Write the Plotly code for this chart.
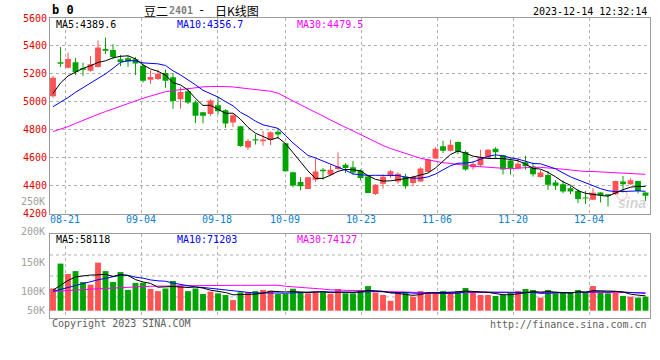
import plotly.graph_objects as go

# ---------------- data ----------------
dates = ["08-17", "08-18", "08-21", "08-22", "08-23", "08-24", "08-25", "08-28", "08-29", "08-30", "08-31",
         "09-01", "09-04", "09-05", "09-06", "09-07", "09-08", "09-11", "09-12", "09-13", "09-14", "09-15",
         "09-18", "09-19", "09-20", "09-21", "09-22", "09-25", "09-26", "09-27", "09-28",
         "10-09", "10-10", "10-11", "10-12", "10-13", "10-16", "10-17", "10-18", "10-19", "10-20",
         "10-23", "10-24", "10-25", "10-26", "10-27", "10-30", "10-31",
         "11-01", "11-02", "11-03", "11-06", "11-07", "11-08", "11-09", "11-10", "11-13", "11-14", "11-15",
         "11-16", "11-17", "11-20", "11-21", "11-22", "11-23", "11-24", "11-27", "11-28", "11-29", "11-30",
         "12-01", "12-04", "12-05", "12-06", "12-07", "12-08", "12-11", "12-12", "12-13", "12-14"]

opens = [5040, 5283, 5243, 5283, 5240, 5222, 5250, 5378, 5370, 5305, 5312, 5305, 5258, 5158, 5163, 5207,
         5175, 5018, 5076, 4997, 4925, 4912, 4975, 4940, 4852, 4825, 4673, 4732, 4718, 4727, 4785,
         4703, 4495, 4426, 4376, 4442, 4513, 4477, 4518, 4549, 4532, 4508, 4465, 4340, 4413, 4470, 4430,
         4465, 4419, 4429, 4498, 4593, 4681, 4650, 4712, 4641, 4531, 4545, 4602, 4664, 4617, 4579, 4522,
         4567, 4536, 4462, 4476, 4422, 4410, 4381, 4362, 4314, 4298, 4350, 4338, 4338, 4429, 4410, 4433, 4350]
highs = [5185, 5393, 5352, 5315, 5280, 5328, 5440, 5460, 5412, 5335, 5330, 5320, 5275, 5225, 5230, 5230,
         5205, 5105, 5100, 5010, 4928, 5018, 5035, 4947, 4910, 4826, 4733, 4768, 4792, 4787, 4810,
         4705, 4500, 4460, 4460, 4592, 4525, 4548, 4637, 4561, 4577, 4515, 4466, 4411, 4480, 4513, 4495,
         4484, 4472, 4531, 4593, 4674, 4721, 4729, 4715, 4650, 4574, 4657, 4662, 4674, 4618, 4602, 4598,
         4614, 4564, 4512, 4505, 4438, 4438, 4398, 4374, 4362, 4380, 4352, 4340, 4434, 4469, 4452, 4434, 4351]
lows = [5030, 5250, 5240, 5192, 5185, 5215, 5245, 5343, 5305, 5255, 5250, 5192, 5138, 5128, 5155, 5100,
        4950, 4950, 4984, 4848, 4845, 4900, 4910, 4813, 4820, 4677, 4655, 4694, 4685, 4690, 4735,
        4500, 4387, 4366, 4375, 4425, 4442, 4470, 4513, 4490, 4477, 4437, 4345, 4333, 4378, 4455, 4413,
        4378, 4395, 4428, 4497, 4592, 4633, 4645, 4626, 4507, 4514, 4538, 4598, 4593, 4479, 4479, 4514,
        4514, 4464, 4457, 4369, 4369, 4345, 4338, 4274, 4267, 4295, 4279, 4250, 4333, 4350, 4405, 4345, 4290]
closes = [5172, 5272, 5307, 5214, 5230, 5268, 5388, 5366, 5320, 5285, 5288, 5275, 5150, 5178, 5200, 5150,
          5006, 5070, 4994, 4900, 4900, 5010, 4933, 4845, 4904, 4683, 4720, 4722, 4730, 4782, 4765,
          4502, 4400, 4396, 4459, 4500, 4502, 4513, 4537, 4525, 4494, 4454, 4346, 4405, 4463, 4502, 4484,
          4396, 4462, 4522, 4586, 4664, 4650, 4693, 4641, 4515, 4555, 4602, 4657, 4638, 4515, 4522, 4557,
          4538, 4481, 4493, 4405, 4398, 4357, 4357, 4303, 4307, 4348, 4333, 4328, 4433, 4410, 4438, 4362, 4327]
volumes_k = [92, 195, 152, 164, 119, 108, 199, 164, 119, 160, 86, 115, 115, 90, 81, 92,
             123, 104, 81, 92, 69, 79, 72, 65, 44, 76, 77, 81, 86, 83, 69,
             69, 91, 77, 72, 77, 77, 69, 90, 72, 72, 86, 102, 75, 65, 41, 77,
             77, 58, 81, 77, 77, 81, 75, 81, 94, 75, 65, 65, 61, 65, 75, 81,
             90, 86, 54, 86, 72, 75, 75, 86, 77, 102, 75, 72, 77, 61, 58, 54, 58]

# moving-average values before a full window exists
ma5_head = [5060, 5135, 5185, 5215]
ma10_head = [4965, 4995, 5030, 5068, 5100, 5130, 5165, 5200, 5240]
ma30_head = [4787, 4803, 4822, 4845, 4868, 4890, 4910, 4930, 4950, 4969, 4990, 5009, 5025, 5041, 5055,
             5072, 5080, 5088, 5096, 5103, 5107, 5109, 5110, 5109, 5106, 5100, 5091, 5083, 5078]
vma5_head = [85, 105, 125, 140]
vma10_head = [80, 88, 98, 106, 113, 121, 128, 134, 141]
vma30_head = [80, 81, 83, 85, 87, 89, 91, 92, 94, 96, 98, 99, 100, 101, 102, 103, 103, 104, 104, 104,
              104, 105, 105, 105, 105, 105, 105, 105, 105]

tick_dates = ["08-21", "09-04", "09-18", "10-09", "10-23", "11-06", "11-20", "12-04"]
price_ticks = [4200, 4400, 4600, 4800, 5000, 5200, 5400, 5600]
vol_tick_labels = ["200K", "150K", "100K", "50K"]
legend_main = ["MA5:4389.6", "MA10:4356.7", "MA30:4479.5"]
legend_vol = ["MA5:58118", "MA10:71203", "MA30:74127"]

# ---------------- layout helpers ----------------
W, H = 660, 360
L, R, T, B = 50, 10, 18, 42
PW, PH = W - L - R, H - T - B


def pxx(x):
    return (x - L) / PW


def pxy(y):
    return (H - B - y) / PH


MONO = "DejaVu Sans Mono"
CJK = "Noto Sans CJK SC"
RED = "#ff5252"
GREEN = "#00a400"
GRID = "#b0b0b0"
BORDER = "#9a9a9a"


def moving(values, n, head):
    out = list(head)
    for i in range(len(head), len(values)):
        out.append(sum(values[i - n + 1:i + 1]) / n)
    return out


N = len(closes)
idx = list(range(N))
up = [c >= o for o, c in zip(opens, closes)]
colors = [RED if u else GREEN for u in up]

fig = go.Figure()

# wicks
for flag, col in ((True, RED), (False, GREEN)):
    wx, wy = [], []
    for i in idx:
        if up[i] == flag:
            wx += [i, i, None]
            wy += [lows[i], highs[i], None]
    fig.add_trace(go.Scatter(x=wx, y=wy, mode="lines", line=dict(color=col, width=1),
                             xaxis="x", yaxis="y", hoverinfo="skip", showlegend=False))

# bodies
fig.add_trace(go.Bar(x=idx, y=[max(abs(c - o), 6) for o, c in zip(opens, closes)],
                     base=[min(o, c) for o, c in zip(opens, closes)], width=0.78,
                     marker=dict(color=colors, line=dict(width=0)),
                     xaxis="x", yaxis="y", hoverinfo="skip", showlegend=False))

# price MAs
for vals, col in ((moving(closes, 30, ma30_head), "#ff00ff"),
                  (moving(closes, 10, ma10_head), "#0000ff"),
                  (moving(closes, 5, ma5_head), "#000000")):
    fig.add_trace(go.Scatter(x=idx, y=vals, mode="lines", line=dict(color=col, width=1),
                             xaxis="x", yaxis="y", hoverinfo="skip", showlegend=False))

# volume
fig.add_trace(go.Bar(x=idx, y=volumes_k, width=0.78, marker=dict(color=colors, line=dict(width=0)),
                     xaxis="x2", yaxis="y2", hoverinfo="skip", showlegend=False))
for vals, col in ((moving(volumes_k, 30, vma30_head), "#ff00ff"),
                  (moving(volumes_k, 10, vma10_head), "#0000ff"),
                  (moving(volumes_k, 5, vma5_head), "#000000")):
    fig.add_trace(go.Scatter(x=idx, y=vals, mode="lines", line=dict(color=col, width=1),
                             xaxis="x2", yaxis="y2", hoverinfo="skip", showlegend=False))

# date grid positions (date labels are spaced over N-1 intervals in the source chart)
grid_pos = [dates.index(d) * N / (N - 1) - 0.4 for d in tick_dates]

axis_common = dict(showline=True, mirror=True, linecolor=BORDER, linewidth=1, zeroline=False,
                   automargin=False)

fig.update_layout(
    width=W, height=H, margin=dict(l=L, r=R, t=T, b=B, autoexpand=False),
    paper_bgcolor="white", plot_bgcolor="white", barmode="overlay", showlegend=False,
    xaxis=dict(domain=[0, 1], range=[-0.4, N - 0.4], anchor="y", tickvals=grid_pos, showticklabels=False,
               showgrid=True, gridcolor=GRID, griddash="dot", gridwidth=1, ticks="", **axis_common),
    yaxis=dict(domain=[pxy(213.5), 1], range=[4200, 5600], anchor="x", tickvals=price_ticks,
               ticktext=[str(v) for v in price_ticks], showgrid=True, gridcolor=GRID, griddash="dot",
               gridwidth=1, ticks="", tickfont=dict(family=MONO, size=10, color="#e00000"), **axis_common),
    xaxis2=dict(domain=[0, 1], matches="x", anchor="y2", tickvals=grid_pos, showticklabels=False,
                showgrid=True, gridcolor=GRID, griddash="dot", gridwidth=1, ticks="", **axis_common),
    yaxis2=dict(domain=[0, pxy(234)], range=[-30.2, 317.6], anchor="x2", showticklabels=False,
                showgrid=False, ticks="", **axis_common),
)

shapes = []
for f in (0.25, 0.5, 0.75):
    shapes.append(dict(type="line", xref="x2 domain", yref="y2 domain", x0=0, x1=1, y0=f, y1=f,
                       line=dict(color=GRID, width=1, dash="dot"), layer="below"))
# faint watermark logo ring
shapes.append(dict(type="circle", xref="paper", yref="paper", x0=pxx(617), x1=pxx(627),
                   y0=pxy(200), y1=pxy(190), line=dict(color="rgba(240,120,120,0.35)", width=1.5),
                   layer="below"))
fig.update_layout(shapes=shapes)

ann = []


def text(s, x, y, color="#000", size=10, anchor="left", family=MONO, **kw):
    ann.append(dict(text=s, x=pxx(x), y=pxy(y), xref="paper", yref="paper", showarrow=False,
                    xanchor=anchor, yanchor="middle", font=dict(family=family, size=size, color=color), **kw))


# date labels under the price panel, centred on the date grid lines
for d, gp in zip(tick_dates, grid_pos):
    ann.append(dict(text=d, x=gp, y=pxy(219.5), xref="x", yref="paper", showarrow=False,
                    xanchor="center", yanchor="middle", font=dict(family=MONO, size=10, color="#0a80cc")))

text("<b>b 0</b>", 50, 10, size=12)
text("豆二", 142, 10, size=12, family=CJK)
text("<b>2401</b>", 167, 10, size=10, color="#808080")
text("-", 201, 10, size=12, anchor="center")
text("日K线图", 213, 10, size=12, family=CJK)
text("2023-12-14 12:32:14", 649, 12, anchor="right")
for s, x, c in zip(legend_main, (54, 175, 295), ("#000000", "#0000ff", "#ff00ff")):
    text(s, x, 24, color=c)
for s, x, c in zip(legend_vol, (54, 175, 295), ("#000000", "#0000ff", "#ff00ff")):
    text(s, x, 239.5, color=c)
text("250K", 47, 201, color="#a0a0a0", anchor="right")
for s, y in zip(vol_tick_labels, (231, 262, 291, 310)):
    text(s, 47, y, color="#a0a0a0", anchor="right")
text("Copyright 2023 SINA.COM", 50, 323.5, color="#606060")
text("http://finance.sina.com.cn", 649, 324, color="#606060", anchor="right")
text("<i><b>sina</b></i>", 632, 203, color="rgba(175,175,175,0.55)", size=14, anchor="center",
     family="Liberation Sans")
fig.update_layout(annotations=ann)

fig.write_html("out.html", config={"displayModeBar": False, "staticPlot": True},
               post_script="document.body.style.margin='0';document.body.style.padding='0';"
                           "document.body.style.overflow='hidden';")
